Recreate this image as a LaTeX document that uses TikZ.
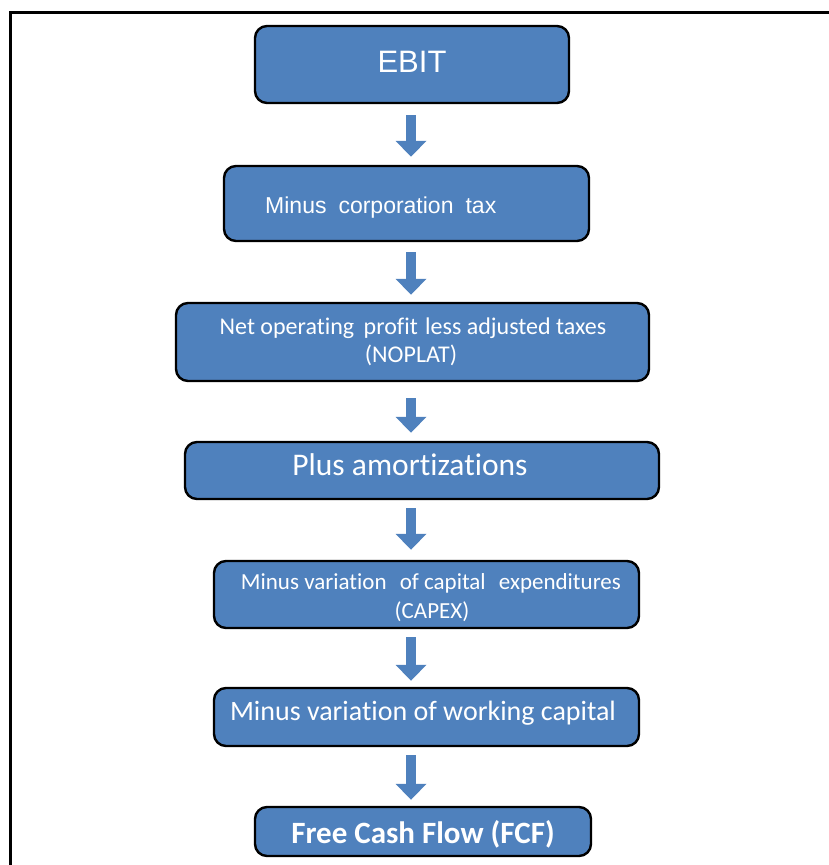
\documentclass[tikz,border=0pt]{standalone}
\usepackage{fontspec}
\setmainfont[Ligatures=NoCommon]{Carlito}
\newfontfamily\arialfont{Liberation Sans}
\usetikzlibrary{arrows.meta,calc}
\definecolor{boxblue}{HTML}{4F81BD}
\begin{document}
\begin{tikzpicture}[x=1pt,y=-1pt,
  box/.style={draw=black, line width=2.4pt, fill=boxblue, rounded corners=12pt, inner sep=0pt},
  txt/.style={text=white, inner sep=0pt, anchor=base},
  flow/.style={draw=boxblue, line width=10pt, -{Triangle[width=30pt,length=16pt]}},
]
\useasboundingbox (0,0) rectangle (828,865);
\draw[line width=3pt] (10,866) -- (10,12) -- (829,12);
\coordinate (ax) at (411,0);
% boxes
\node[box, minimum width=314pt, minimum height=77pt] (b1) at (412,64.5) {};
\node[box, minimum width=365pt, minimum height=75pt] (b2) at (406.5,203.5) {};
\node[box, minimum width=473pt, minimum height=78pt] (b3) at (412.5,342) {};
\node[box, minimum width=474pt, minimum height=57pt] (b4) at (422,470.5) {};
\node[box, minimum width=425pt, minimum height=67pt] (b5) at (426.5,594.5) {};
\node[box, minimum width=425pt, minimum height=58pt] (b6) at (426.5,717) {};
\node[box, minimum width=336pt, minimum height=49pt] (b7) at (423,831.5) {};
% texts
\node[txt, font=\arialfont\fontsize{31}{31}\selectfont] (t1) at (412,72) {EBIT};
\node[txt, anchor=base west, font=\arialfont\fontsize{23}{23}\selectfont] (t2) at (265,213) {Minus\hspace{12pt}corporation\hspace{12pt}tax};
\node[txt, font=\fontsize{24}{24}\selectfont] (t3a) at (413,334) {Net operating\hspace{4pt} profit\hspace{2pt} less adjusted taxes};
\node[txt, font=\fontsize{24}{24}\selectfont] (t3b) at (411,362) {(NOPLAT)};
\node[txt, font=\fontsize{31.5}{31.5}\selectfont] (t4) at (410,475) {Plus amortizations};
\node[txt, font=\fontsize{23}{23}\selectfont] (t5a) at (431,589) {Minus variation\hspace{8pt} of capital\hspace{8pt} expenditures};
\node[txt, font=\fontsize{23}{23}\selectfont] (t5b) at (432,618) {(CAPEX)};
\node[txt, font=\fontsize{28}{28}\selectfont] (t6) at (423,720) {Minus variation of working capital};
\node[txt, font=\bfseries\fontsize{31}{31}\selectfont] (t7) at (423,843) {Free Cash Flow (FCF)};
% block arrows
\draw[flow] ($(b1.south -| ax)+(0,11)$) -- ($(b2.north -| ax)+(0,-8)$);
\draw[flow] ($(b2.south -| ax)+(0,10)$) -- ($(b3.north -| ax)+(0,-7)$);
\draw[flow] ($(b3.south -| ax)+(0,16)$) -- ($(b4.north -| ax)+(0,-8)$);
\draw[flow] ($(b4.south -| ax)+(0,8)$) -- ($(b5.north -| ax)+(0,-10)$);
\draw[flow] ($(b5.south -| ax)+(0,8)$) -- ($(b6.north -| ax)+(0,-6)$);
\draw[flow] ($(b6.south -| ax)+(0,8)$) -- ($(b7.north -| ax)+(0,-6)$);
\end{tikzpicture}
\end{document}
